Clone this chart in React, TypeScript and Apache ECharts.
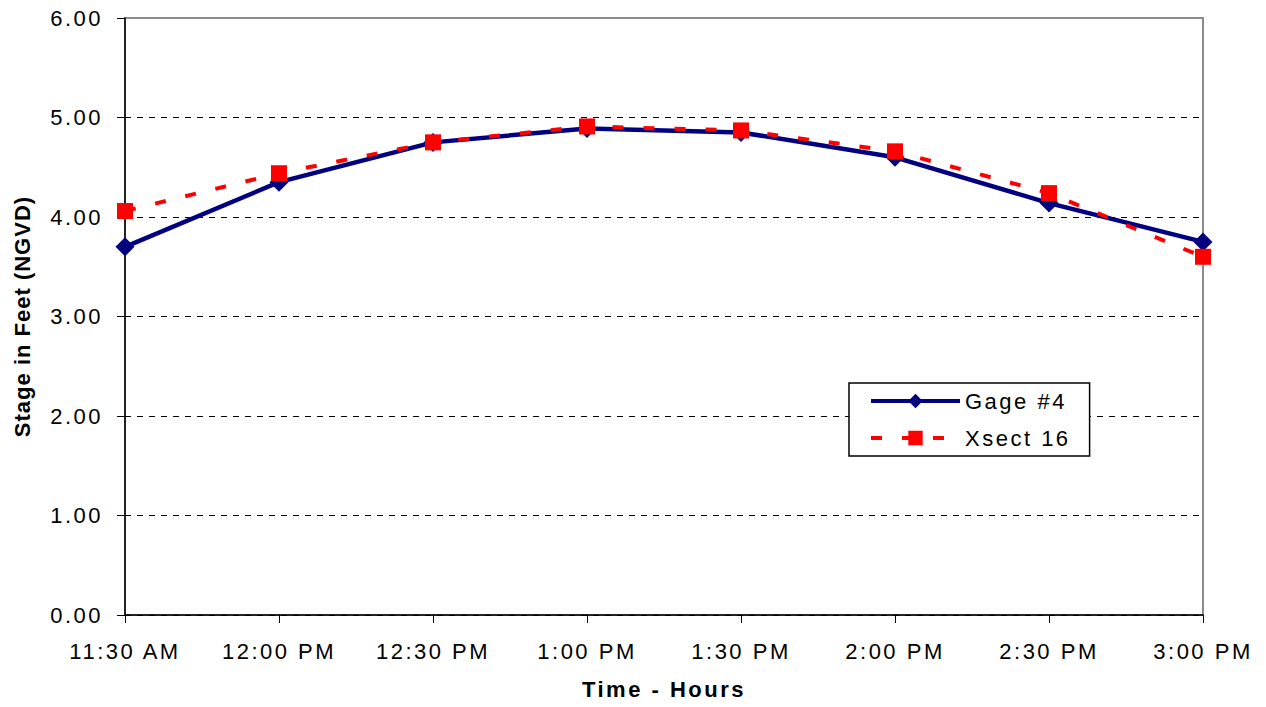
import React, { useEffect, useRef } from "react";
import * as echarts from "echarts";

const categories = ["11:30 AM", "12:00 PM", "12:30 PM", "1:00 PM", "1:30 PM", "2:00 PM", "2:30 PM", "3:00 PM"];
const gage4 = [3.7, 4.35, 4.75, 4.89, 4.85, 4.6, 4.14, 3.75];
const xsect16 = [4.06, 4.44, 4.75, 4.91, 4.87, 4.66, 4.24, 3.6];
const yMin = 0;
const yMax = 6;
const yInterval = 1;

const FONT = "'Liberation Sans', Arial, sans-serif";
const yAxisTitle = "Stage in Feet (NGVD)";

export default function App() {
  const ref = useRef<HTMLDivElement>(null);
  useEffect(() => {
    if (!ref.current) return;
    const chart = echarts.init(ref.current, undefined, { renderer: "svg" });
    chart.setOption({
      animation: false,
      backgroundColor: "#ffffff",
      textStyle: { fontFamily: FONT },
      grid: {
        left: 125,
        right: 63,
        top: 18,
        bottom: 92,
        containLabel: false,
        outerBoundsMode: "none",
        show: true,
        borderColor: "#8c8c8c",
        borderWidth: 2,
      },
      legend: {
        left: 849,
        top: 383,
        orient: "vertical",
        itemWidth: 89,
        itemHeight: 18,
        itemGap: 15,
        padding: [7, 39, 7, 20],
        backgroundColor: "#ffffff",
        borderColor: "#000000",
        borderWidth: 1.5,
        lineStyle: { width: 4 },
        textStyle: { fontSize: 22, color: "#000", fontFamily: FONT },
        data: ["Gage #4", "Xsect 16"],
      },
      xAxis: {
        type: "category",
        data: categories,
        boundaryGap: false,
        name: "Time - Hours",
        nameLocation: "middle",
        nameGap: 63,
        nameTextStyle: { fontSize: 22, fontWeight: "bold", color: "#000", fontFamily: FONT },
        axisLine: { lineStyle: { color: "#000", width: 1.5 } },
        axisTick: { show: true, length: 8, alignWithLabel: true, lineStyle: { color: "#000" } },
        axisLabel: { fontSize: 22, color: "#000", margin: 25, fontFamily: FONT },
        splitLine: { show: false },
      },
      yAxis: {
        type: "value",
        min: yMin,
        max: yMax,
        interval: yInterval,
        name: yAxisTitle,
        nameLocation: "middle",
        nameGap: 92,
        nameRotate: 90,
        nameTextStyle: { fontSize: 22, fontWeight: "bold", color: "#000", fontFamily: FONT },
        axisLine: { show: true, lineStyle: { color: "#000", width: 1.5 } },
        axisTick: { show: true, length: 8, lineStyle: { color: "#000" } },
        axisLabel: {
          fontSize: 22,
          color: "#000",
          margin: 22,
          fontFamily: FONT,
          formatter: (v: number) => v.toFixed(2),
        },
        splitLine: {
          show: true,
          lineStyle: {
            color: ["#000", "#000", "#000", "#000", "#000", "#000", "#8c8c8c"],
            type: [6, 6],
            width: 1,
          },
        },
      },
      series: [
        {
          name: "Gage #4",
          type: "line",
          data: gage4,
          symbol: "diamond",
          symbolSize: 19,
          itemStyle: { color: "#000080" },
          lineStyle: { color: "#000080", width: 4.5 },
          z: 2,
        },
        {
          name: "Xsect 16",
          type: "line",
          data: xsect16,
          symbol: "rect",
          symbolSize: 16,
          itemStyle: { color: "#ff0000" },
          lineStyle: { color: "#ff0000", width: 4, type: [11, 20] },
          z: 3,
        },
      ],
    });
    const texts = ref.current.querySelectorAll("text");
    texts.forEach((t) => {
      const el = t as SVGTextElement;
      const content = el.textContent || "";
      el.style.letterSpacing = content === yAxisTitle ? "1px" : "2.5px";
    });
    return () => chart.dispose();
  }, []);
  return (
    <div
      ref={ref}
      style={{ position: "fixed", left: 0, top: 0, width: 1266, height: 707, background: "#fff" }}
    />
  );
}
